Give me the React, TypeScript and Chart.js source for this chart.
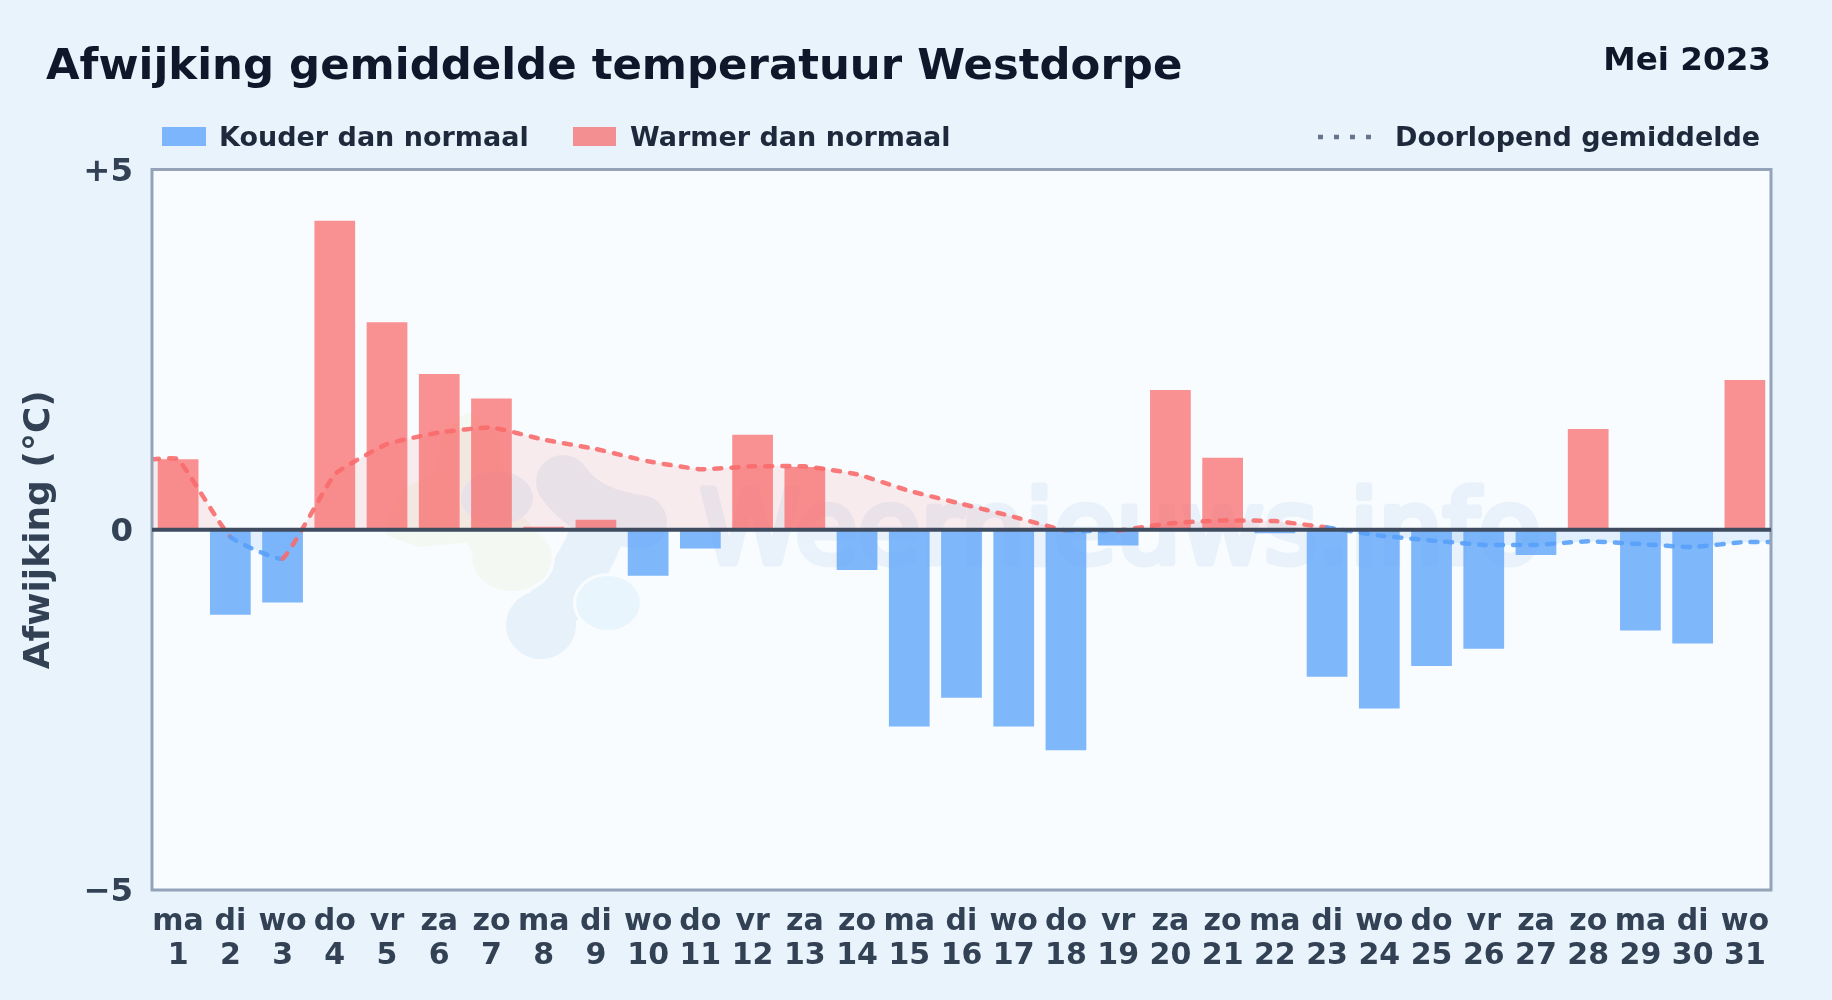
import React, { useEffect, useRef } from "react";
import { Chart, registerables } from "chart.js";

Chart.register(...registerables);

const weekdays = ["ma","di","wo","do","vr","za","zo","ma","di","wo","do","vr","za","zo","ma","di","wo","do","vr","za","zo","ma","di","wo","do","vr","za","zo","ma","di","wo"];
const days = [1,2,3,4,5,6,7,8,9,10,11,12,13,14,15,16,17,18,19,20,21,22,23,24,25,26,27,28,29,30,31];
const anomaly = [0.98,-1.18,-1.01,4.29,2.88,2.16,1.82,0.04,0.14,-0.64,-0.26,1.32,0.87,-0.56,-2.73,-2.33,-2.73,-3.06,-0.22,1.94,1.0,-0.05,-2.04,-2.48,-1.89,-1.65,-0.35,1.4,-1.4,-1.58,2.08];
const runningMean = [0.98,-0.1,-0.4,0.77,1.19,1.35,1.42,1.25,1.12,0.95,0.84,0.88,0.88,0.77,0.54,0.36,0.18,-0.01,-0.01,0.09,0.13,0.12,0.03,-0.08,-0.15,-0.21,-0.21,-0.16,-0.2,-0.24,-0.17];
const yTickLabels: Record<string, string> = { "5": "+5", "0": "0", "-5": "\u22125" };

const titleText = "Afwijking gemiddelde temperatuur Westdorpe";
const periodText = "Mei 2023";
const legendCold = "Kouder dan normaal";
const legendWarm = "Warmer dan normaal";
const legendMean = "Doorlopend gemiddelde";
const axisTitle = "Afwijking (\u00B0C)";
const watermark = "Weernieuws.info";

const FONT = '"DejaVu Sans"';
const PLOT_BG = "#f8fcff";
const RED_BAR = "rgba(250,100,100,0.7)";
const BLUE_BAR = "rgba(96,165,250,0.8)";
const RED_LINE = "rgba(248,108,108,0.9)";
const BLUE_LINE = "rgba(88,160,250,0.9)";

const backdrop = {
  id: "backdrop",
  beforeDatasetsDraw(chart: any) {
    const { ctx, chartArea: a } = chart;
    ctx.save();
    ctx.fillStyle = PLOT_BG;
    ctx.fillRect(a.left, a.top, a.width, a.height);
    ctx.beginPath();
    ctx.rect(a.left, a.top, a.width, a.height);
    ctx.clip();
    // faint logo
    ctx.lineCap = "round";
    ctx.lineJoin = "round";
    ctx.strokeStyle = "#e7f1f9";
    ctx.fillStyle = "#e7f1f9";
    ctx.lineWidth = 54;
    ctx.beginPath();
    ctx.moveTo(563, 482);
    ctx.quadraticCurveTo(585, 515, 640, 522);
    ctx.moveTo(598, 530);
    ctx.quadraticCurveTo(585, 570, 541, 622);
    ctx.stroke();
    ctx.beginPath();
    ctx.ellipse(541, 625, 35, 34, 0, 0, Math.PI * 2);
    ctx.fill();
    ctx.fillStyle = "#f3f8f2";
    ctx.strokeStyle = PLOT_BG;
    ctx.lineWidth = 6;
    ctx.beginPath();
    ctx.ellipse(512, 558, 40, 33, 0, 0, Math.PI * 2);
    ctx.stroke();
    ctx.fill();
    ctx.strokeStyle = "#f3f8f2";
    ctx.lineWidth = 14;
    ctx.beginPath();
    ctx.moveTo(392, 530);
    ctx.lineTo(405, 495);
    ctx.lineTo(440, 478);
    ctx.lineTo(450, 432);
    ctx.lineTo(468, 420);
    ctx.lineTo(490, 435);
    ctx.lineTo(500, 500);
    ctx.lineTo(530, 535);
    ctx.lineTo(490, 565);
    ctx.lineTo(470, 535);
    ctx.lineTo(420, 540);
    ctx.closePath();
    ctx.fill();
    ctx.stroke();
    ctx.fillStyle = "#e7f1f9";
    ctx.beginPath();
    ctx.ellipse(497, 498, 36, 27, 0, 0, Math.PI * 2);
    ctx.fill();
    ctx.fillStyle = "#e9f5fd";
    ctx.strokeStyle = PLOT_BG;
    ctx.lineWidth = 6;
    ctx.beginPath();
    ctx.ellipse(608, 603, 32, 27, 0, 0, Math.PI * 2);
    ctx.stroke();
    ctx.fill();
    ctx.font = `normal 102px ${FONT}`;
    ctx.fillStyle = "#e9f2fa";
    ctx.strokeStyle = "#e9f2fa";
    ctx.lineWidth = 7;
    ctx.textAlign = "left";
    ctx.textBaseline = "alphabetic";
    ctx.strokeText(watermark, 700, 563);
    ctx.fillText(watermark, 700, 563);
    ctx.restore();
  },
};

const frame = {
  id: "frame",
  afterDatasetsDraw(chart: any) {
    const { ctx, chartArea: a, scales } = chart;
    ctx.save();
    ctx.strokeStyle = "#94a3b8";
    ctx.lineWidth = 3;
    ctx.strokeRect(a.left, a.top, a.width, a.height);
    const y0 = scales.y.getPixelForValue(0);
    ctx.strokeStyle = "#3f4c60";
    ctx.lineWidth = 4;
    ctx.beginPath();
    ctx.moveTo(a.left, y0);
    ctx.lineTo(a.right, y0);
    ctx.stroke();
    ctx.restore();
  },
};

const heading = {
  id: "heading",
  afterDraw(chart: any) {
    const { ctx } = chart;
    ctx.save();
    ctx.textBaseline = "alphabetic";
    ctx.textAlign = "left";
    ctx.fillStyle = "#0f172a";
    ctx.font = `bold 43.4px ${FONT}`;
    ctx.fillText(titleText, 46, 79);
    ctx.font = `bold 32.6px ${FONT}`;
    ctx.textAlign = "right";
    ctx.fillText(periodText, 1771, 70);
    ctx.textAlign = "left";
    ctx.font = `bold 27px ${FONT}`;
    ctx.fillStyle = BLUE_BAR;
    ctx.fillRect(162, 127, 44, 19);
    ctx.fillStyle = RED_BAR;
    ctx.fillRect(573, 127, 43, 19);
    ctx.fillStyle = "#1e293b";
    ctx.fillText(legendCold, 219, 146);
    ctx.fillText(legendWarm, 630, 146);
    ctx.fillText(legendMean, 1395, 146);
    ctx.strokeStyle = "#64748b";
    ctx.lineWidth = 4.5;
    ctx.setLineDash([5, 11]);
    ctx.beginPath();
    ctx.moveTo(1318, 137);
    ctx.lineTo(1376, 137);
    ctx.stroke();
    ctx.restore();
  },
};

export default function App() {
  const ref = useRef<HTMLCanvasElement | null>(null);
  useEffect(() => {
    const meanPoints = [
      { x: 0.5, y: runningMean[0] },
      ...runningMean.map((y, i) => ({ x: days[i], y })),
      { x: 31.5, y: runningMean[runningMean.length - 1] },
    ];
    const chart = new Chart(ref.current as HTMLCanvasElement, {
      type: "bar",
      data: {
        labels: days.map((d, i) => [weekdays[i], String(d)]),
        datasets: [
          {
            type: "line",
            label: legendMean,
            data: meanPoints as any,
            xAxisID: "xl",
            order: 0,
            borderWidth: 4.5,
            borderDash: [7, 10],
            borderCapStyle: "round",
            borderColor: RED_LINE,
            pointRadius: 0,
            tension: 0.12,
            fill: {
              target: { value: 0 },
              above: "rgba(250,100,100,0.11)",
              below: "rgba(96,165,250,0.15)",
            },
            segment: {
              borderColor: (c: any) =>
                c.p0.parsed.y + c.p1.parsed.y >= 0 ? RED_LINE : BLUE_LINE,
            },
          } as any,
          {
            type: "bar",
            label: "Afwijking",
            data: anomaly,
            order: 1,
            grouped: false,
            barPercentage: 0.78,
            categoryPercentage: 1,
            backgroundColor: anomaly.map((v) => (v >= 0 ? RED_BAR : BLUE_BAR)),
          },
        ],
      },
      options: {
        responsive: false,
        animation: false,
        devicePixelRatio: 1,
        layout: { padding: { top: 169.5, right: 61, left: 0, bottom: 0 } },
        plugins: {
          legend: { display: false },
          title: { display: false },
          tooltip: { enabled: false },
        },
        scales: {
          x: {
            type: "category",
            offset: true,
            grid: { display: false, drawTicks: false },
            border: { display: false },
            afterFit: (s: any) => { s.height = 110; },
            ticks: {
              autoSkip: false,
              maxRotation: 0,
              minRotation: 0,
              padding: 15.5,
              color: "#334155",
              font: { family: FONT, weight: "bold", size: 30, lineHeight: 1.13 },
            },
          },
          xl: { type: "linear", min: 0.5, max: 31.5, offset: false, display: false },
          y: {
            min: -5,
            max: 5,
            grid: { display: false, drawTicks: false },
            border: { display: false },
            afterFit: (s: any) => {
              s.width = 152;
              if (!s.__shifted) {
                s.__shifted = true;
                const orig = s._computeLabelItems;
                s._computeLabelItems = function (area: any) {
                  return orig.call(s, area).map((it: any) => ({
                    ...it,
                    options: {
                      ...it.options,
                      translation: [it.options.translation[0], it.options.translation[1] + 3],
                    },
                  }));
                };
              }
            },
            ticks: {
              stepSize: 5,
              padding: 19,
              color: "#334155",
              font: { family: FONT, weight: "bold", size: 32.4 },
              callback: (v: any) => yTickLabels[String(v)] ?? "",
            },
            title: {
              display: true,
              text: axisTitle,
              color: "#334155",
              font: { family: FONT, weight: "bold", size: 36 },
              padding: { top: 18, bottom: 0 },
            },
          },
        },
      } as any,
      plugins: [backdrop, frame, heading],
    } as any);
    return () => chart.destroy();
  }, []);
  return (
    <div style={{ position: "absolute", left: 0, top: 0, width: 1832, height: 1000, background: "#e8f3fc" }}>
      <canvas ref={ref} width={1832} height={1000} style={{ display: "block", width: 1832, height: 1000 }} />
    </div>
  );
}
